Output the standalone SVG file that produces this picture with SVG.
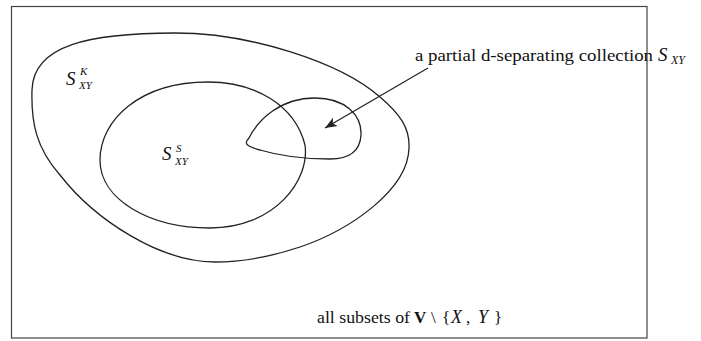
<svg xmlns="http://www.w3.org/2000/svg" width="701" height="341" viewBox="0 0 701 341">
<style>
.set{fill:none;stroke:#222;stroke-width:1.3}
.frame{fill:none;stroke:#444;stroke-width:1.2}
.t{font-family:"Liberation Serif","Times New Roman",serif;fill:#111}
.it{font-style:italic}
.conn{stroke:#222;stroke-width:1.2;fill:none}
</style>
<defs>
<marker id="ah" viewBox="0 0 10 10" refX="10" refY="5" markerWidth="12" markerHeight="12" markerUnits="userSpaceOnUse" orient="auto">
<path d="M0,1 L10,5 L0,9 L2.5,5 Z" fill="#222"/>
</marker>
</defs>
<rect id="frame" class="frame" x="11.5" y="6.5" width="635.5" height="331.5"/>
<g id="all-subsets">
<text class="t" x="317" y="323" font-size="17" textLength="93" lengthAdjust="spacingAndGlyphs">all subsets of</text>
<text class="t" x="414" y="323" font-size="17" font-weight="bold">V</text>
<text class="t" x="431" y="323" font-size="17">\</text>
<text class="t" x="442" y="323" font-size="17">{</text>
<text class="t it" x="451" y="323" font-size="18">X</text>
<text class="t" x="466" y="323" font-size="17">,</text>
<text class="t it" x="478" y="323" font-size="18">Y</text>
<text class="t" x="494" y="323" font-size="17">}</text>
</g>
<g id="set-K">
<path class="set" d="M175,33 C250,33 340,62 380,97 C400,114 410,128 409,148 C408,190 350,230 300,247 C270,257 245,262 215,262 C160,262 95,220 60,175 C36,148 31,122 32,90 C33,45 90,33 175,33 Z"/>
<text class="t it" x="66" y="85" font-size="19">S</text>
<text class="t it" x="80" y="75" font-size="11">K</text>
<text class="t it" x="79" y="89" font-size="11">XY</text>
</g>
<g id="set-S">
<path class="set" d="M208,82 C255,82 295,105 305,145 C310,180 275,228 210,228 C150,228 100,200 100,160 C100,120 140,82 208,82 Z"/>
<text class="t it" x="162" y="160" font-size="19">S</text>
<text class="t it" x="176" y="152" font-size="11">S</text>
<text class="t it" x="175" y="165" font-size="11">XY</text>
</g>
<g id="partial">
<path class="set" d="M249,138 C258,120 280,98 315,98 C345,98 362,115 361,135 C360,152 348,159 330,159 C305,159 280,156 260,150 C245,146 244,143 249,138 Z"/>
<text class="t" x="415" y="61" font-size="17" textLength="238" lengthAdjust="spacingAndGlyphs">a partial d-separating collection</text>
<text class="t it" x="658" y="61" font-size="19">S</text>
<text class="t it" x="671" y="64" font-size="12">XY</text>
</g>
<g id="connectors">
<line class="conn" x1="428" y1="68" x2="325" y2="128" marker-end="url(#ah)"/>
</g>
</svg>
